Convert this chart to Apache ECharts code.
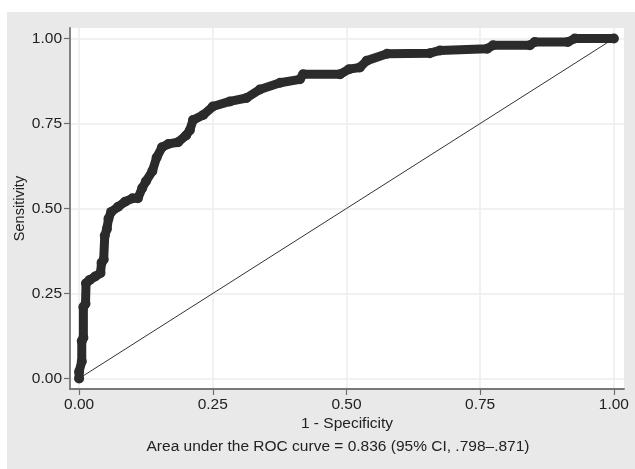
<!DOCTYPE html>
<html>
<head>
<meta charset="utf-8">
<script src="https://cdn.jsdelivr.net/npm/echarts@6/dist/echarts.min.js"></script>
<style>
  body { margin: 0; background: #fff; }
  #panel { position: absolute; left: 7px; top: 12px; width: 628px; height: 457px; background: #e9e9e9; }
  #main { position: absolute; left: 0; top: 0; width: 635px; height: 469px; }
</style>
</head>
<body>
<div id="panel"></div>
<div id="main"></div>
<script>
// 1 - specificity (x) and sensitivity (y)
var fpr = [0, 0, 0.005, 0.005, 0.008, 0.008, 0.012, 0.013, 0.02, 0.03, 0.04, 0.042, 0.046, 0.048, 0.052,
  0.055, 0.06, 0.073, 0.086, 0.1, 0.11, 0.118, 0.125, 0.137, 0.145, 0.155, 0.167, 0.185, 0.2, 0.207,
  0.213, 0.232, 0.25, 0.282, 0.313, 0.338, 0.376, 0.413, 0.419, 0.488, 0.505, 0.525, 0.538, 0.576,
  0.656, 0.675, 0.763, 0.774, 0.843, 0.852, 0.914, 0.927, 1.0];
var tpr = [0, 0.02, 0.05, 0.11, 0.12, 0.21, 0.22, 0.28, 0.29, 0.30, 0.31, 0.34, 0.35, 0.42, 0.44,
  0.47, 0.49, 0.505, 0.52, 0.53, 0.53, 0.56, 0.58, 0.61, 0.65, 0.68, 0.69, 0.695, 0.715, 0.73,
  0.76, 0.775, 0.8, 0.815, 0.825, 0.85, 0.87, 0.88, 0.895, 0.895, 0.91, 0.915, 0.935, 0.955,
  0.957, 0.965, 0.97, 0.98, 0.98, 0.99, 0.99, 1.0, 1.0];
var refLine = [[0, 0], [1, 1]];
var ticks = [0, 0.25, 0.5, 0.75, 1];

var font = "'Liberation Sans', Arial, sans-serif";
var myChart = echarts.init(document.getElementById('main'));

var rocData = fpr.map(function (x, i) { return [x, tpr[i]]; });

var axisCommon = {
  type: 'value',
  nameLocation: 'middle',
  nameMoveOverlap: false,
  nameTextStyle: { color: '#222', fontSize: 15.5, fontFamily: font },
  axisLine: { show: true, onZero: false, lineStyle: { color: '#777', width: 1.8 } },
  axisTick: { show: true, length: 6, customValues: ticks, lineStyle: { color: '#6e6e6e', width: 1.2 } },
  axisLabel: {
    customValues: ticks, color: '#222', fontSize: 15.5, fontFamily: font, margin: 8,
    formatter: function (v) { return v.toFixed(2); }
  },
  splitLine: { show: true, lineStyle: { color: '#ececec', width: 1.5 } }
};

var option = {
  animation: false,
  grid: {
    left: 70, right: 11, top: 28, bottom: 80, outerBoundsMode: 'none',
    show: true, backgroundColor: '#fff', borderWidth: 0
  },
  xAxis: Object.assign({}, axisCommon, {
    min: -0.017, max: 1.019, name: '1 - Specificity', nameGap: 27
  }),
  yAxis: Object.assign({}, axisCommon, {
    min: -0.031, max: 1.031, name: 'Sensitivity', nameGap: 43,
    nameTextStyle: { color: '#222', fontSize: 14.5, fontFamily: font }
  }),
  graphic: [{
    type: 'text', x: 338, y: 447,
    style: {
      text: 'Area under the ROC curve = 0.836 (95% CI, .798\u2013.871)',
      fill: '#222', font: '15.5px ' + font, textAlign: 'center', textVerticalAlign: 'middle'
    }
  }],
  series: [{
    type: 'line',
    data: refLine,
    showSymbol: false,
    lineStyle: { color: '#333', width: 1 },
    z: 2
  }, {
    type: 'line',
    data: rocData,
    symbol: 'circle',
    symbolSize: 10,
    showSymbol: true,
    itemStyle: { color: '#2b2b2b' },
    lineStyle: { color: '#2b2b2b', width: 9, join: 'round', cap: 'round' },
    z: 3
  }]
};

myChart.setOption(option);
</script>
</body>
</html>
